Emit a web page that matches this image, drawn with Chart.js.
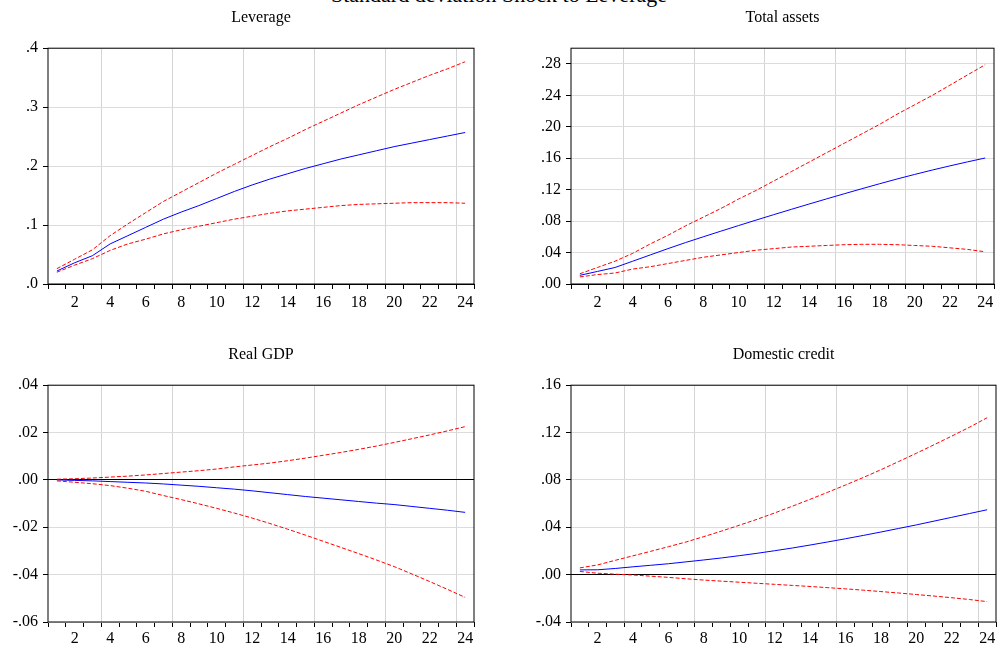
<!DOCTYPE html>
<html lang="en">
<head>
  <meta charset="UTF-8">
  <title>Impulse responses</title>
  <script src="https://cdn.jsdelivr.net/npm/chart.js"></script>
  <style>
    body { margin: 0; background: #fff; width: 998px; height: 646px; overflow: hidden; position: relative; font-family: "Liberation Serif", serif; }
    .panel { position: absolute; }
    #mainTitle { position: absolute; left: 0; width: 998px; top: -16px; text-align: center; font-size: 22px; line-height: 22px; white-space: nowrap; }
  </style>
</head>
<body>
  <div id="mainTitle">Standard deviation Shock to Leverage</div>
  <div class="panel" style="left:0;top:0;width:490px;height:314px"><canvas id="lev"></canvas></div>
  <div class="panel" style="left:500px;top:0;width:498px;height:314px"><canvas id="assets"></canvas></div>
  <div class="panel" style="left:0;top:330px;width:490px;height:316px"><canvas id="gdp"></canvas></div>
  <div class="panel" style="left:500px;top:330px;width:498px;height:316px"><canvas id="credit"></canvas></div>

  <script>
    // periods after the shock
    const periods = [1,2,3,4,5,6,7,8,9,10,11,12,13,14,15,16,17,18,19,20,21,22,23,24];
    const xLabels = [2,4,6,8,10,12,14,16,18,20,22,24];
    const xGridAt = [4,8,12,16,20,24];

    // y ticks
    const levTicks = [0, 0.1, 0.2, 0.3, 0.4];
    const assetTicks = [0, 0.04, 0.08, 0.12, 0.16, 0.20, 0.24, 0.28];
    const gdpTicks = [-0.06, -0.04, -0.02, 0, 0.02, 0.04];
    const creditTicks = [-0.04, 0, 0.04, 0.08, 0.12, 0.16];

    // Leverage
    const levResp  = [0.022,0.036,0.048,0.068,0.082,0.096,0.110,0.122,0.133,0.145,0.157,0.168,0.178,0.187,0.196,0.204,0.212,0.219,0.226,0.233,0.239,0.245,0.251,0.257];
    const levUpper = [0.026,0.042,0.058,0.082,0.102,0.121,0.140,0.156,0.172,0.188,0.203,0.218,0.233,0.247,0.262,0.276,0.290,0.304,0.317,0.330,0.342,0.354,0.365,0.377];
    const levLower = [0.020,0.032,0.043,0.057,0.068,0.076,0.085,0.092,0.098,0.104,0.110,0.115,0.120,0.124,0.127,0.130,0.133,0.135,0.136,0.137,0.138,0.138,0.138,0.137];

    // Total assets
    const assetResp  = [0.0110,0.0160,0.0210,0.0290,0.0370,0.0450,0.0527,0.0600,0.0672,0.0743,0.0813,0.0882,0.0950,0.1017,0.1083,0.1148,0.1212,0.1275,0.1336,0.1394,0.1450,0.1503,0.1554,0.1603];
    const assetUpper = [0.013,0.021,0.029,0.039,0.051,0.062,0.074,0.085,0.096,0.108,0.119,0.131,0.143,0.155,0.167,0.179,0.191,0.203,0.216,0.228,0.240,0.253,0.266,0.279];
    const assetLower = [0.009,0.012,0.014,0.019,0.022,0.026,0.030,0.034,0.037,0.040,0.043,0.045,0.047,0.048,0.049,0.050,0.0505,0.0505,0.050,0.049,0.048,0.046,0.044,0.041];

    // Real GDP
    const gdpResp  = [0.0000,-0.0002,-0.0004,-0.0007,-0.0010,-0.0013,-0.0017,-0.0022,-0.0027,-0.0033,-0.0039,-0.0046,-0.0054,-0.0062,-0.0070,-0.0077,-0.0084,-0.0091,-0.0098,-0.0104,-0.0112,-0.0120,-0.0128,-0.0137];
    const gdpUpper = [0.0003,0.0005,0.0008,0.0012,0.0016,0.0021,0.0027,0.0033,0.0039,0.0046,0.0055,0.0063,0.0071,0.0081,0.0092,0.0104,0.0116,0.0129,0.0143,0.0158,0.0174,0.0190,0.0207,0.0225];
    const gdpLower = [-0.0004,-0.0010,-0.0016,-0.0024,-0.0035,-0.0048,-0.0066,-0.0083,-0.0101,-0.0120,-0.0140,-0.0161,-0.0184,-0.0208,-0.0233,-0.0259,-0.0285,-0.0311,-0.0338,-0.0366,-0.0397,-0.0429,-0.0462,-0.0496];

    // Domestic credit
    const creditResp  = [0.0040,0.0041,0.0052,0.0066,0.0079,0.0092,0.0108,0.0124,0.0141,0.0160,0.0180,0.0202,0.0225,0.0250,0.0276,0.0303,0.0331,0.0360,0.0390,0.0420,0.0452,0.0484,0.0516,0.0548];
    const creditUpper = [0.0057,0.0082,0.0121,0.0159,0.0197,0.0236,0.0276,0.0321,0.0368,0.0417,0.0467,0.0521,0.0578,0.0636,0.0696,0.0757,0.0820,0.0886,0.0955,0.1025,0.1097,0.1170,0.1245,0.1325];
    const creditLower = [0.0027,0.0012,0.0004,-0.0003,-0.0013,-0.0023,-0.0035,-0.0046,-0.0055,-0.0064,-0.0073,-0.0082,-0.0091,-0.0100,-0.0110,-0.0120,-0.0131,-0.0143,-0.0155,-0.0168,-0.0181,-0.0195,-0.0210,-0.0228];

    const font = { family: '"Liberation Serif", serif', size: 16 };

    // tick marks sit on period boundaries, labels in the middle of each period
    const xTickValues = [];
    periods.forEach(p => { xTickValues.push(p - 0.5); xTickValues.push(p); });
    xTickValues.push(periods[periods.length - 1] + 0.5);

    function fmt(v, dec) {
      let s = Math.abs(v) < 1e-9 ? (0).toFixed(dec) : v.toFixed(dec);
      return s.replace('0.', '.');
    }

    // box around the plot area
    const framePlugin = {
      id: 'frame',
      afterDraw(chart) {
        const { ctx, chartArea: a } = chart;
        ctx.save();
        ctx.strokeStyle = '#000';
        ctx.lineWidth = 1;
        ctx.strokeRect(a.left, a.top, a.right - a.left, a.bottom - a.top);
        ctx.restore();
      }
    };

    function pts(arr) {
      return periods.map((p, i) => ({ x: p, y: arr[i] }));
    }

    function makeChart(id, title, yTicks, yMin, yMax, dec, resp, upper, lower, cfg) {
      new Chart(document.getElementById(id), {
        type: 'line',
        data: {
          datasets: [
            { data: pts(upper), borderColor: '#ff0000', borderWidth: 1, borderDash: [4, 2], pointRadius: 0, tension: 0 },
            { data: pts(lower), borderColor: '#ff0000', borderWidth: 1, borderDash: [4, 2], pointRadius: 0, tension: 0 },
            { data: pts(resp), borderColor: '#0000ff', borderWidth: 1, pointRadius: 0, tension: 0 }
          ]
        },
        options: {
          responsive: true,
          maintainAspectRatio: false,
          animation: false,
          layout: { padding: { left: 0, right: cfg.padRight, top: 0, bottom: 0 } },
          plugins: {
            legend: { display: false },
            tooltip: { enabled: false },
            title: {
              display: true, text: title, color: '#000', font: { ...font, weight: 'normal' },
              fullSize: false, padding: { top: cfg.titleTop, bottom: cfg.titleBottom }
            }
          },
          scales: {
            x: {
              type: 'linear', min: 0.5, max: 24.5,
              afterBuildTicks: s => { s.ticks = xTickValues.map(v => ({ value: v })); },
              afterFit: s => { s.height = cfg.xHeight; },
              border: { display: false },
              grid: {
                color: c => (c.tick && xGridAt.includes(c.tick.value + 0.5)) ? '#d4d4d4' : 'rgba(0,0,0,0)',
                tickColor: c => (c.tick && Number.isInteger(c.tick.value)) ? 'rgba(0,0,0,0)' : '#000',
                tickLength: 5
              },
              ticks: {
                autoSkip: false, maxRotation: 0, padding: cfg.xPad, color: '#000', font: font,
                callback: v => xLabels.includes(v) ? String(v) : ''
              }
            },
            y: {
              min: yMin, max: yMax,
              afterBuildTicks: s => { s.ticks = yTicks.map(v => ({ value: v })); },
              afterFit: s => { s.width = cfg.yWidth; },
              border: { display: false },
              grid: {
                color: c => (c.tick && Math.abs(c.tick.value) < 1e-9) ? '#000' : '#dcdcdc',
                tickColor: '#000',
                tickLength: 5
              },
              ticks: { padding: 5, color: '#000', font: font, callback: v => fmt(v, dec) }
            }
          }
        },
        plugins: [framePlugin]
      });
    }

    const topLeft = { padRight: 16, titleTop: 8, titleBottom: 21, xHeight: 30, xPad: 4, yWidth: 48 };
    const topRight = { padRight: 1, titleTop: 8, titleBottom: 21, xHeight: 30, xPad: 4, yWidth: 71 };
    const botLeft = { padRight: 16, titleTop: 15, titleBottom: 21, xHeight: 24, xPad: 2, yWidth: 48 };
    const botRight = { padRight: 1, titleTop: 15, titleBottom: 21, xHeight: 24, xPad: 2, yWidth: 71 };

    makeChart('lev', 'Leverage', levTicks, 0, 0.4, 1, levResp, levUpper, levLower, topLeft);
    makeChart('assets', 'Total assets', assetTicks, 0, 0.30, 2, assetResp, assetUpper, assetLower, topRight);
    makeChart('gdp', 'Real GDP', gdpTicks, -0.06, 0.04, 2, gdpResp, gdpUpper, gdpLower, botLeft);
    makeChart('credit', 'Domestic credit', creditTicks, -0.04, 0.16, 2, creditResp, creditUpper, creditLower, botRight);
  </script>
</body>
</html>
